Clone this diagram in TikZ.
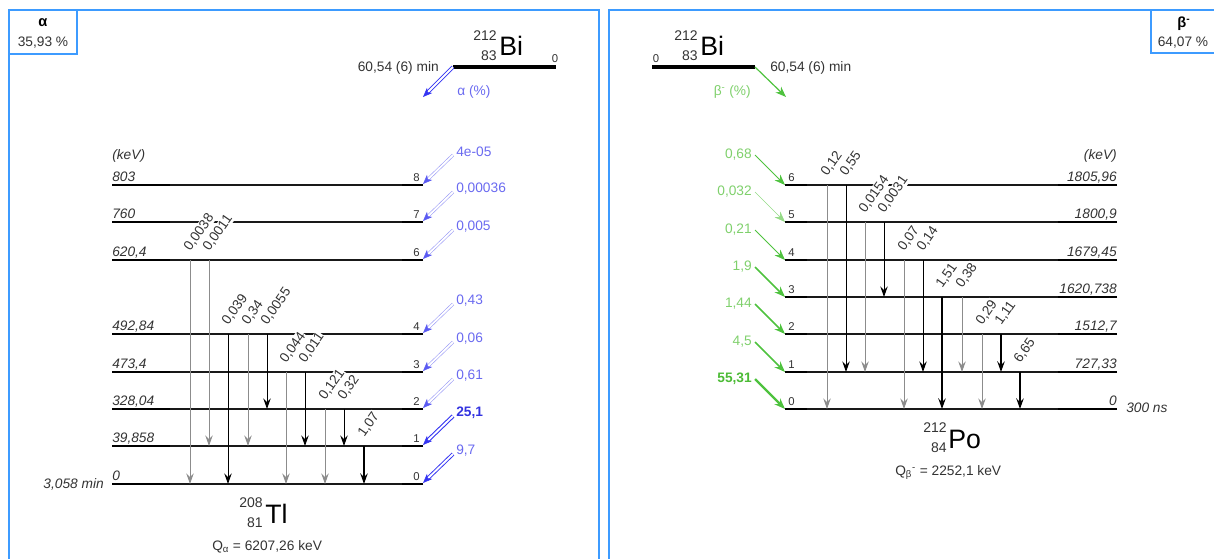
\documentclass[tikz,border=0pt]{standalone}
\usepackage{fontspec}
\setmainfont{Liberation Sans}
\usetikzlibrary{arrows.meta}
\definecolor{frameblue}{HTML}{3D9BFF}
\definecolor{abl}{HTML}{3434F2}
\definecolor{abll}{HTML}{9A9AF6}
\definecolor{ablh}{HTML}{5A5AF2}
\definecolor{atxt}{HTML}{6A6AF0}
\definecolor{atxtb}{HTML}{3333E0}
\definecolor{gr}{HTML}{4EC23E}
\definecolor{grl}{HTML}{94DA86}
\definecolor{gtxt}{HTML}{7FD06C}
\definecolor{gtxtb}{HTML}{4CBB36}
\definecolor{grayline}{HTML}{8C8C8C}
\definecolor{txt}{HTML}{333333}

% name, y, label, line colour, line width, head colour, label style
\newcommand\alphafeed[7]{%
  \coordinate (as#1) at (453,#2-30);
  \coordinate (at#1) at (423,#2-1);
  \draw[draw=#4, line width=#5, double=white, double distance=1.4pt, shorten >=4pt] (as#1) -- (at#1);
  \draw[draw=#6, fill=#6, -{Stealth[length=7pt,width=5.5pt,inset=2pt]}] (at#1) ++(3,-3) -- (at#1);
  \node[anchor=west, inner sep=0, #7] (al#1) at (456,#2-33) {#3};
}
% name, y, label, arrow style, label style
\newcommand\betafeed[5]{%
  \coordinate (bs#1) at (755,#2-30);
  \coordinate (bt#1) at (785,#2);
  \draw[#4, -{Stealth[length=8pt,width=6pt,inset=2.5pt]}] (bs#1) -- (bt#1);
  \node[anchor=east, inner sep=0, #5] (bl#1) at (752,#2-30) {#3};
}
% name, x, y from, y to, style, label
\newcommand\gammaline[6]{%
  \coordinate (#1s) at (#2,#3);
  \coordinate (#1e) at (#2,#4);
  \node[glab] (#1l) at (#2+2,#3-6) {#6};
  \draw[#5] (#1s) -- (#1e);
}

\begin{document}
\begin{tikzpicture}[x=0.75pt,y=-0.75pt,
  font=\fontsize{10.3}{12}\selectfont, text=txt,
  lvlthin/.style={draw=black!90, line width=0.9pt},
  lvlthick/.style={draw=black, line width=2.2pt},
  gam/.style={draw=black, line width=0.75pt, -{Stealth[length=8pt,width=5.6pt,inset=2.8pt]}},
  gamg/.style={gam, draw=grayline},
  gamk/.style={gam, line width=1.4pt},
  glab/.style={rotate=55, anchor=south west, inner sep=0.5pt, fill=white, font=\fontsize{10.2}{11}\selectfont},
  elab/.style={inner sep=0, font=\fontsize{10.3}{12}\selectfont\itshape},
  ilab/.style={inner sep=0, font=\fontsize{8.5}{10}\selectfont},
  nucbig/.style={inner sep=0, font=\fontsize{20}{24}\selectfont, text=black},
  nucsm/.style={inner sep=0, font=\fontsize{10.5}{12}\selectfont},
  framestyle/.style={draw=frameblue, line width=1.2pt}]
\useasboundingbox (0,0) rectangle (1214,558);
\clip (0,0) rectangle (1214,558);

% ---------- frames ----------
\coordinate (fl1) at (9,575); \coordinate (fl2) at (9,10);
\coordinate (fl3) at (599,10); \coordinate (fl4) at (599,575);
\draw[framestyle] (fl1) -- (fl2) -- (fl3) -- (fl4);
\coordinate (fr1) at (609,575); \coordinate (fr2) at (609,10);
\coordinate (fr3) at (1225,10);
\draw[framestyle] (fr1) -- (fr2) -- (fr3);
\coordinate (ab1) at (9,10); \coordinate (ab2) at (77,54);
\draw[framestyle] (ab1) rectangle (ab2);
\coordinate (bb1) at (1151,10); \coordinate (bb2) at (1151,53); \coordinate (bb3) at (1225,53);
\draw[framestyle] (bb1) -- (bb2) -- (bb3);
\node[inner sep=0, font=\fontsize{11}{12}\selectfont\bfseries, text=black] (abox) at (43,23) {α};
\node[inner sep=0] (aboxp) at (43,43) {35,93 \%};
\node[inner sep=0, font=\fontsize{11}{12}\selectfont\bfseries, text=black] (bbox) at (1184,24) {β\textsuperscript{-}};
\node[inner sep=0] (bboxp) at (1183,43) {64,07 \%};

% ---------- left: alpha decay to 208Tl ----------
\coordinate (BiLa) at (453,67); \coordinate (BiLb) at (556,67);
\draw[line width=2.3pt] (BiLa) -- (BiLb);
\node[ilab, anchor=base] (BiL0) at (555,62) {0};
\node[anchor=east, inner sep=0] (BiLt) at (439,68) {60,54 (6) min};
\node[nucsm, anchor=base east] (BiLA) at (497,40) {212};
\node[nucsm, anchor=base east] (BiLZ) at (497,60) {83};
\node[nucbig, anchor=base west] (BiLs) at (499,55) {Bi};
\coordinate (aa) at (423,97);
\draw[draw=abl, line width=0.7pt, double=white, double distance=1.4pt, shorten >=4pt] (BiLa) -- (aa);
\draw[draw=abl, fill=abl, -{Stealth[length=7pt,width=5.5pt,inset=2pt]}] (aa) ++(3,-3) -- (aa);
\node[anchor=west, inner sep=0, text=atxt] (alab) at (457,92) {α (\%)};

\node[elab, anchor=base west] (keVL) at (112,159) {(keV)};
\foreach \n/\y/\e in {0/484/{0},1/446/{39,858},2/409/{328,04},3/372/{473,4},4/334/{492,84},6/260/{620,4},7/222/{760},8/185/{803}} {
  \coordinate (Ta\n) at (112,\y);
  \coordinate (Tb\n) at (423,\y);
  \draw[lvlthin] (Ta\n) -- (Tb\n);
  \draw[lvlthick] (Ta\n) -- ++(58,0);
  \draw[lvlthick] (Tb\n) -- ++(-21,0);
  \node[elab, anchor=base west] (TE\n) at (112,\y-4) {\e};
  \node[ilab, anchor=base east] (TI\n) at (420,\y-4) {\n};
}
\node[elab, anchor=base east] (Thl) at (104,488) {3,058 min};

\gammaline{ga}{190}{260}{484}{gamg}{0,0038}
\gammaline{gb}{209}{260}{446}{gamg}{0,0011}
\gammaline{gc}{228}{334}{484}{gam}{0,039}
\gammaline{gd}{248}{334}{446}{gamg}{0,34}
\gammaline{ge}{267}{334}{409}{gam}{0,0055}
\gammaline{gf}{286}{372}{484}{gamg}{0,044}
\gammaline{gg}{305}{372}{446}{gam}{0,011}
\gammaline{gh}{325}{409}{484}{gamg}{0,121}
\gammaline{gi}{344}{409}{446}{gam}{0,32}
\gammaline{gj}{364}{446}{484}{gamk}{1,07}

\alphafeed{8}{185}{4e-05}{abll}{0.45pt}{ablh}{text=atxt}
\alphafeed{7}{222}{0,00036}{abll}{0.45pt}{ablh}{text=atxt}
\alphafeed{6}{260}{0,005}{abll}{0.45pt}{ablh}{text=atxt}
\alphafeed{4}{334}{0,43}{abll}{0.45pt}{ablh}{text=atxt}
\alphafeed{3}{372}{0,06}{abll}{0.45pt}{ablh}{text=atxt}
\alphafeed{2}{409}{0,61}{abll}{0.45pt}{ablh}{text=atxt}
\alphafeed{1}{446}{25,1}{abl}{0.8pt}{abl}{text=atxtb, font=\fontsize{10.3}{12}\selectfont\bfseries}
\alphafeed{0}{484}{9,7}{abl}{0.7pt}{abl}{text=atxt}

\node[nucsm, anchor=base east] (TlA) at (263,507) {208};
\node[nucsm, anchor=base east] (TlZ) at (263,527) {81};
\node[nucbig, anchor=base west] (Tls) at (265,523) {Tl};
\node[inner sep=0, anchor=base west] (Qa) at (212,550) {Q\textsubscript{α} = 6207,26 keV};

% ---------- right: beta decay to 212Po ----------
\coordinate (BiRa) at (652,67); \coordinate (BiRb) at (755,67);
\draw[line width=2.3pt] (BiRa) -- (BiRb);
\node[ilab, anchor=base] (BiR0) at (656,62) {0};
\node[anchor=west, inner sep=0] (BiRt) at (770,68) {60,54 (6) min};
\node[nucsm, anchor=base east] (BiRA) at (698,40) {212};
\node[nucsm, anchor=base east] (BiRZ) at (698,60) {83};
\node[nucbig, anchor=base west] (BiRs) at (700,55) {Bi};
\coordinate (ba) at (786,97);
\draw[draw=gr, line width=0.9pt, -{Stealth[length=8pt,width=6pt,inset=2.5pt]}] (BiRb) -- (ba);
\node[anchor=east, inner sep=0, text=gtxt] (blab) at (751,92) {β\textsuperscript{-} (\%)};

\node[elab, anchor=base east] (keVR) at (1117,159) {(keV)};
\foreach \n/\y/\e in {0/409/{0},1/372/{727,33},2/334/{1512,7},3/297/{1620,738},4/260/{1679,45},5/222/{1800,9},6/185/{1805,96}} {
  \coordinate (Pa\n) at (785,\y);
  \coordinate (Pb\n) at (1117,\y);
  \draw[lvlthin] (Pa\n) -- (Pb\n);
  \draw[lvlthick] (Pa\n) -- ++(22,0);
  \draw[lvlthick] (Pb\n) -- ++(-59,0);
  \node[elab, anchor=base east] (PE\n) at (1117,\y-4) {\e};
  \node[ilab, anchor=base west] (PI\n) at (788,\y-4) {\n};
}
\node[elab, anchor=base west] (Phl) at (1126,412) {300 ns};

\gammaline{pa}{827}{185}{409}{gamg}{0,12}
\gammaline{pb}{846}{185}{372}{gam}{0,55}
\gammaline{pc}{865}{222}{372}{gamg}{0,0154}
\gammaline{pd}{884}{222}{297}{gam}{0,0031}
\gammaline{pe}{904}{260}{409}{gamg}{0,07}
\gammaline{pf}{923}{260}{372}{gam}{0,14}
\gammaline{pg}{942}{297}{409}{gamk}{1,51}
\gammaline{ph}{962}{297}{372}{gamg}{0,38}
\gammaline{pi}{982}{334}{409}{gamg}{0,29}
\gammaline{pj}{1001}{334}{372}{gamk}{1,11}
\gammaline{pk}{1020}{372}{409}{gamk}{6,65}

\betafeed{6}{185}{0,68}{draw=gr, line width=0.6pt}{text=gtxt}
\betafeed{5}{222}{0,032}{draw=grl, line width=0.5pt}{text=gtxt}
\betafeed{4}{260}{0,21}{draw=gr, line width=0.55pt}{text=gtxt}
\betafeed{3}{297}{1,9}{draw=gr, line width=1.2pt}{text=gtxt}
\betafeed{2}{334}{1,44}{draw=gr, line width=1.2pt}{text=gtxt}
\betafeed{1}{372}{4,5}{draw=gr, line width=1.3pt}{text=gtxt}
\betafeed{0}{409}{55,31}{draw=gr, line width=1.6pt}{text=gtxtb, font=\fontsize{10.3}{12}\selectfont\bfseries}

\node[nucsm, anchor=base east] (PoA) at (947,432) {212};
\node[nucsm, anchor=base east] (PoZ) at (947,452) {84};
\node[nucbig, anchor=base west] (Pos) at (948,448) {Po};
\node[inner sep=0, anchor=base west] (Qb) at (895,475) {Q\textsubscript{β}\textsuperscript{-} = 2252,1 keV};
\end{tikzpicture}
\end{document}
